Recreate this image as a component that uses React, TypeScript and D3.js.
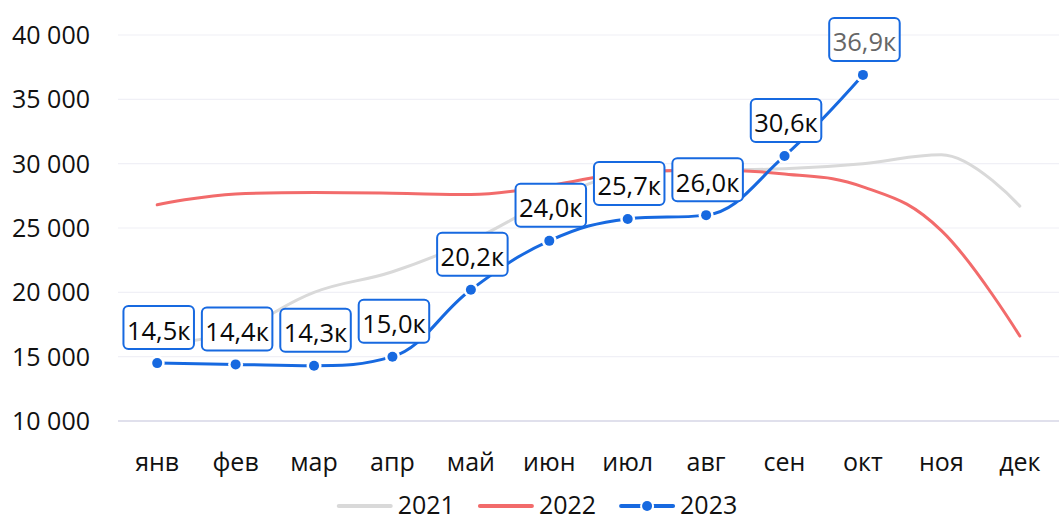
import React from "react";
import * as d3 from "d3";

const months = ["янв", "фев", "мар", "апр", "май", "июн", "июл", "авг", "сен", "окт", "ноя", "дек"];
const yTicks = [10000, 15000, 20000, 25000, 30000, 35000, 40000];
const values2021 = [15900, 17000, 20000, 21600, 24000, 27100, 29200, 29500, 29600, 30000, 30700, 26700];
const values2022 = [26800, 27650, 27750, 27700, 27600, 28300, 29300, 29500, 29200, 28200, 24800, 16600];
const values2023 = [14500, 14400, 14300, 15000, 20200, 24000, 25700, 26000, 30600, 36900];
const seriesNames = ["2021", "2022", "2023"];
const seriesColors = ["#d9d9d9", "#f26b6b", "#1769e0"];

const W = 1059;
const H = 520;
const FONT = "'Open Sans', 'Noto Sans', sans-serif";

let _ctx: CanvasRenderingContext2D | null = null;
function measure(text: string, size: number): number {
  if (!_ctx) {
    const c = document.createElement("canvas");
    _ctx = c.getContext("2d");
  }
  if (!_ctx) return text.length * size * 0.55;
  _ctx.font = `${size}px 'Open Sans', 'Noto Sans', sans-serif`;
  return _ctx.measureText(text).width;
}

type Pt = { x: number; y: number };

function splinePath(pts: Pt[]): string {
  const n = pts.length;
  const conts: ({ lx: number; ly: number; rx: number; ry: number } | null)[] = pts.map(() => null);
  const smoothing = 1.5;
  const denom = smoothing + 1;
  for (let i = 1; i < n - 1; i++) {
    const p = pts[i], l = pts[i - 1], r = pts[i + 1];
    let lx = (smoothing * p.x + l.x) / denom;
    let ly = (smoothing * p.y + l.y) / denom;
    let rx = (smoothing * p.x + r.x) / denom;
    let ry = (smoothing * p.y + r.y) / denom;
    let corr = 0;
    if (rx !== lx) corr = ((ry - ly) * (rx - p.x)) / (rx - lx) + p.y - ry;
    ly += corr;
    ry += corr;
    if (ly > l.y && ly > p.y) {
      ly = Math.max(l.y, p.y);
      ry = 2 * p.y - ly;
    } else if (ly < l.y && ly < p.y) {
      ly = Math.min(l.y, p.y);
      ry = 2 * p.y - ly;
    }
    if (ry > r.y && ry > p.y) {
      ry = Math.max(r.y, p.y);
      ly = 2 * p.y - ry;
    } else if (ry < r.y && ry < p.y) {
      ry = Math.min(r.y, p.y);
      ly = 2 * p.y - ry;
    }
    conts[i] = { lx, ly, rx, ry };
  }
  const path = d3.path();
  pts.forEach((p, i) => {
    if (i === 0) {
      path.moveTo(p.x, p.y);
      return;
    }
    const l = pts[i - 1];
    const lc = conts[i - 1];
    const c = conts[i];
    path.bezierCurveTo(
      lc ? lc.rx : l.x,
      lc ? lc.ry : l.y,
      c ? c.lx : p.x,
      c ? c.ly : p.y,
      p.x,
      p.y
    );
  });
  return path.toString();
}

export default function App() {
  const x = d3.scaleBand<string>().domain(months).range([118, W]);
  const cx = (m: string) => (x(m) as number) + x.bandwidth() / 2;
  const y = d3.scaleLinear().domain([10000, 40000]).range([421, 35]);

  const toPts = (vals: number[]) => vals.map((v, i) => ({ x: cx(months[i]), y: y(v) }));
  const pts21 = toPts(values2021);
  const pts22 = toPts(values2022);
  const pts23 = toPts(values2023);

  const fmt = (v: number) => (v / 1000).toFixed(1).replace(".", ",") + "к";

  // legend layout
  const legendSize = 25;
  const symW = 52;
  const symGap = 7;
  const itemGap = 25;
  const itemWidths = seriesNames.map((s) => symW + symGap + measure(s, legendSize));
  const legendTotal = itemWidths.reduce((a, b) => a + b, 0) + itemGap * (seriesNames.length - 1);
  const legendCenter = 538;
  let lx0 = legendCenter - legendTotal / 2;
  const legendItems = seriesNames.map((s, i) => {
    const item = { name: s, x: lx0, color: seriesColors[i], marker: i === 2 };
    lx0 += itemWidths[i] + itemGap;
    return item;
  });
  const legendY = 506;

  return (
    <svg
      width={W}
      height={H}
      style={{ position: "absolute", left: 0, top: 0, background: "#fff" }}
      fontFamily={FONT}
    >
      <rect x={0} y={0} width={W} height={H} fill="#fff" />
      {/* gridlines */}
      {yTicks.map((t) => (
        <line
          key={t}
          x1={118}
          x2={W}
          y1={y(t)}
          y2={y(t)}
          stroke={t === 10000 ? "#d6d6e6" : "#f0f0f6"}
          strokeWidth={t === 10000 ? 1.5 : 1.2}
        />
      ))}
      {/* y tick labels */}
      {yTicks.map((t) => (
        <text
          key={"yl" + t}
          x={90}
          y={y(t) + 9}
          textAnchor="end"
          fontSize={25}
          fill="#111"
        >
          {d3.format(",")(t).replace(/,/g, " ")}
        </text>
      ))}
      {/* x labels */}
      {months.map((m) => (
        <text key={m} x={cx(m)} y={471} textAnchor="middle" fontSize={25} fill="#111">
          {m}
        </text>
      ))}
      {/* series lines */}
      <path d={splinePath(pts21)} fill="none" stroke={seriesColors[0]} strokeWidth={3} strokeLinecap="round" strokeLinejoin="round" />
      <path d={splinePath(pts22)} fill="none" stroke={seriesColors[1]} strokeWidth={3} strokeLinecap="round" strokeLinejoin="round" />
      <path d={splinePath(pts23)} fill="none" stroke={seriesColors[2]} strokeWidth={3} strokeLinecap="round" strokeLinejoin="round" />
      {/* markers */}
      {pts23.map((p, i) => (
        <g key={"m" + i}>
          <circle cx={p.x} cy={p.y} r={7.5} fill="#fff" />
          <circle cx={p.x} cy={p.y} r={5} fill={seriesColors[2]} />
        </g>
      ))}
      {/* data labels */}
      {pts23.map((p, i) => {
        const label = fmt(values2023[i]);
        const fs = 25.5;
        const tw = measure(label, fs);
        const bw = tw + 7;
        const bh = 43;
        const bx = p.x + 1.5 - bw / 2;
        const by = p.y - 14 - bh;
        const last = i === values2023.length - 1;
        return (
          <g key={"dl" + i}>
            <rect
              x={bx}
              y={by}
              width={bw}
              height={bh}
              rx={5}
              ry={5}
              fill="#fff"
              stroke={seriesColors[2]}
              strokeWidth={2}
            />
            <text
              x={p.x + 1.5}
              y={by + bh - 9.5}
              textAnchor="middle"
              fontSize={fs}
              fill={last ? "#666" : "#0a0a0a"}
            >
              {label}
            </text>
          </g>
        );
      })}
      {/* legend */}
      {legendItems.map((it) => (
        <g key={it.name}>
          <line
            x1={it.x}
            x2={it.x + symW}
            y1={legendY}
            y2={legendY}
            stroke={it.color}
            strokeWidth={4}
            strokeLinecap="round"
          />
          {it.marker && <circle cx={it.x + symW / 2} cy={legendY} r={7} fill="#fff" />}
          {it.marker && <circle cx={it.x + symW / 2} cy={legendY} r={5} fill={it.color} />}
          <text x={it.x + symW + symGap} y={legendY + 8} fontSize={legendSize} fill="#111">
            {it.name}
          </text>
        </g>
      ))}
    </svg>
  );
}
